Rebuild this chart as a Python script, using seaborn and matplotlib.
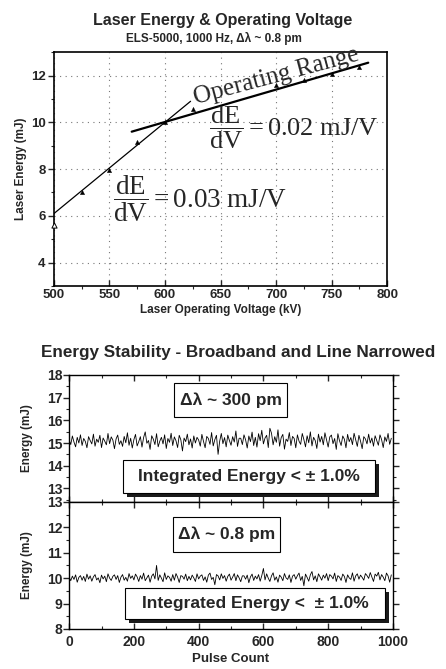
import numpy as np
import pandas as pd
import matplotlib
matplotlib.use('Agg')
import matplotlib.pyplot as plt
import seaborn as sns
from matplotlib.patches import Rectangle
from matplotlib.ticker import MultipleLocator

sns.set_theme(style="ticks")
plt.rcParams['font.family'] = ['Liberation Sans', 'DejaVu Sans']
plt.rcParams['mathtext.fontset'] = 'custom'
plt.rcParams['mathtext.rm'] = 'Liberation Serif'
plt.rcParams['mathtext.it'] = 'Liberation Serif:italic'

SERIF = ['Liberation Serif', 'DejaVu Serif']

# ── DATA: energy vs voltage ─────────────────────────────
voltage = [500, 525, 550, 575, 600, 625, 700, 725, 750, 775]
energy = [5.6, 7.0, 7.95, 9.15, 10.0, 10.55, 11.6, 11.8, 12.05, 12.35]

# hand-drawn slope lines (end points)
steep_x = [500, 623]
steep_y = [6.1, 10.9]
shallow_x = [570, 783]
shallow_y = [9.6, 12.55]

# ── DATA: pulse-to-pulse energy (every 5th pulse) ──────
pulse = np.arange(0, 1000, 5)
broad_base = 15.0
broad_dev = [  # hundredths of mJ
    14, -7, 31, 4, -17, 25, 0, 36, -11, 20, 7, -21, 28, 11, -4, 39, -14, 17, 3, 34,
    -20, 22, 8, -8, 42, -3, 27, 13, -25, 18, 35, -6, 10, -15, 29, 1, 45, -10, 21, -22,
    15, 38, -13, 6, 28, -18, 24, 49, -1, 11, -28, 32, 17, -7, 41, -17, 8, 25, -4, 36,
    -24, 20, 3, 43, -11, 27, 10, -20, 34, 14, -35, 22, 6, 39, -8, 18, -22, 31, 0, 25,
    13, -14, 38, 7, -21, 29, 20, -6, 46, -13, 15, 34, -50, 8, 42, -3, 24, -17, 35, 11,
    -10, 28, 4, 53, -15, 21, 21, -7, 36, 14, -22, 31, 6, 48, -11, 25, -18, 41, 10, 56,
    -4, 22, 34, -20, 65, 43, -8, 28, 3, 58, -14, 24, 38, -27, 17, 7, 46, -11, 29, 20,
    -21, 36, 8, -6, 42, 15, -17, 32, 1, 49, -13, 25, 11, -24, 39, 4, 29, -8, 45, 14,
    -18, 27, 35, -3, 20, -28, 41, 10, -11, 31, 17, -21, 38, 6, 24, -7, 43, 13, -15, 34,
    8, -25, 28, 18, -4, 39, 0, 22, -14, 32, 11, -10, 36, 15, -20, 27, 7, 42, -6, 21,
]
narrow_base = 10.0
narrow_dev = [  # hundredths of mJ
    4, -10, 8, -5, 13, -16, 3, 10, -8, 7, -13, 16, -4, 9, -12, 5, 14, -7, 1, -18,
    12, -3, 8, -14, 17, 0, -9, 7, 13, -5, 10, -17, 4, 14, -8, 3, -12, 18, -1, 9,
    -7, 16, 5, -13, 10, -4, 20, -10, 1, 12, -16, 8, 17, -3, 50, -9, 13, 0, -14, 21,
    -5, 9, 3, -12, 14, -8, 18, 4, -17, 10, 7, -4, 16, -10, 7, -7, 12, 1, -13, 17,
    -3, 8, 13, -9, 5, -16, 12, 20, -5, 3, -26, 14, 9, -7, 17, -1, 10, -12, 7, 16,
    -8, 4, 18, -10, 13, 1, -14, 9, 9, -4, 12, -18, 5, 16, -9, 8, -3, 14, -12, 10,
    38, -7, 17, 0, -13, 9, 21, -8, 5, -16, 12, 4, -10, 18, 1, -5, 13, -17, 8, 14,
    -4, 10, 20, -9, 7, -30, 16, 3, -12, 13, 26, -7, 9, -14, 17, 5, -8, 12, 0, 18,
    -10, 14, 8, -3, 20, -13, 10, 4, -9, 16, 7, -17, 13, 1, -5, 21, -12, 9, 17, -4,
    12, 3, -8, 18, 10, -1, 22, 5, -13, 16, 8, 23, -7, 14, 4, -10, 20, 9, -16, 13,
]
broad = pd.DataFrame({'pulse': pulse, 'energy': broad_base + np.array(broad_dev) / 100})
narrow = pd.DataFrame({'pulse': pulse, 'energy': narrow_base + np.array(narrow_dev) / 100})

fig = plt.figure(figsize=(4.46, 6.69), dpi=100)

# ── TOP PANEL ───────────────────────────────────────────
ax1 = fig.add_axes([0.121, 0.5725, 0.747, 0.3495])
sns.lineplot(x=steep_x, y=steep_y, color='black', linewidth=0.9, ax=ax1)
sns.lineplot(x=shallow_x, y=shallow_y, color='black', linewidth=1.6, ax=ax1)
sns.scatterplot(x=voltage[1:], y=energy[1:], marker='^', color='black',
                edgecolor='black', s=10, ax=ax1, zorder=5)
ax1.scatter(voltage[:1], energy[:1], marker='^', facecolor='white',
            edgecolor='black', s=14, linewidth=0.7, zorder=5, clip_on=False)
ax1.set_xlim(500, 800)
ax1.set_ylim(3, 13)
ax1.xaxis.set_major_locator(MultipleLocator(50))
ax1.xaxis.set_minor_locator(MultipleLocator(25))
ax1.yaxis.set_major_locator(MultipleLocator(2))
ax1.yaxis.set_minor_locator(MultipleLocator(1))
ax1.grid(True, which='major', linestyle=(0, (1, 4)), color='#777777', linewidth=0.8)
ax1.tick_params(axis='both', which='major', labelsize=9.5, length=4, width=1, pad=2)
ax1.tick_params(axis='both', which='minor', length=2, width=0.8)
ax1.tick_params(axis='x', direction='in')
for lbl in ax1.get_xticklabels() + ax1.get_yticklabels():
    lbl.set_fontweight('bold')
for sp in ax1.spines.values():
    sp.set_linewidth(1.2)
    sp.set_color('black')
ax1.set_xlabel('Laser Operating Voltage (kV)', fontsize=8.5, fontweight='bold', labelpad=2)
ax1.set_ylabel('Laser Energy (mJ)', fontsize=8.5, fontweight='bold', labelpad=3)

ax1.text(700, 11.95, 'Operating Range', family=SERIF, fontsize=18, rotation=15,
         ha='center', va='center', rotation_mode='anchor')
ax1.text(640, 9.75, r'$\dfrac{\mathrm{dE}}{\mathrm{dV}} = \mathrm{0.02\ mJ/V}$',
         fontsize=19, ha='left', va='center')
ax1.text(553, 6.75, r'$\dfrac{\mathrm{dE}}{\mathrm{dV}} = \mathrm{0.03\ mJ/V}$',
         fontsize=19.5, ha='left', va='center')

fig.text(0.5, 1 - 20 / 669, 'Laser Energy & Operating Voltage', ha='center',
         va='center', fontsize=11.5, fontweight='bold')
fig.text(0.48, 1 - 38 / 669, 'ELS-5000, 1000 Hz, \u0394\u03bb ~ 0.8 pm', ha='center',
         va='center', fontsize=8.5, fontweight='bold')

# ── BOTTOM PANELS ───────────────────────────────────────
ax2 = fig.add_axes([0.155, 0.2496, 0.726, 0.19])
ax3 = fig.add_axes([0.155, 0.0598, 0.726, 0.19])
sns.lineplot(data=broad, x='pulse', y='energy', color='black', linewidth=0.6, ax=ax2)
sns.lineplot(data=narrow, x='pulse', y='energy', color='black', linewidth=0.6, ax=ax3)

ax2.set_ylim(12.4, 18)
ax3.set_ylim(8, 13)
for ax in (ax2, ax3):
    ax.set_xlim(0, 1000)
    ax.xaxis.set_major_locator(MultipleLocator(200))
    ax.xaxis.set_minor_locator(MultipleLocator(100))
    ax.yaxis.set_major_locator(MultipleLocator(1))
    ax.yaxis.set_minor_locator(MultipleLocator(0.5))
    ax.tick_params(axis='both', which='major', labelsize=10, length=4, width=1, pad=1)
    ax.tick_params(axis='both', which='minor', length=2, width=0.8)
    ax.tick_params(axis='y', which='both', right=True)
    ax.tick_params(axis='x', which='both', top=True, direction='in', pad=4)
    for lbl in ax.get_xticklabels() + ax.get_yticklabels():
        lbl.set_fontweight('bold')
    for sp in ax.spines.values():
        sp.set_linewidth(1.0)
        sp.set_color('black')
    ax.set_ylabel('Energy (mJ)', fontsize=8.5, fontweight='bold', labelpad=10)
ax2.set_xlabel('')
ax2.tick_params(axis='x', labelbottom=False)
ax3.set_xlabel('Pulse Count', fontsize=9.5, fontweight='bold', labelpad=3)


def boxed(ax, x0, y0, x1, y1, text, shadow):
    w, h = x1 - x0, y1 - y0
    if shadow:
        ax.add_patch(Rectangle((x0 + 0.012, y0 - 0.03), w, h, transform=ax.transAxes,
                               facecolor='#1a1a1a', edgecolor='none', zorder=4))
    ax.add_patch(Rectangle((x0, y0), w, h, transform=ax.transAxes, facecolor='white',
                           edgecolor='black', linewidth=0.8, zorder=5))
    ax.text(x0 + w / 2, y0 + h / 2, text, transform=ax.transAxes, ha='center',
            va='center', fontsize=12.5, fontweight='bold', zorder=6)


boxed(ax2, 0.324, 0.669, 0.673, 0.937, '\u0394\u03bb ~ 300 pm', False)
boxed(ax2, 0.167, 0.071, 0.944, 0.331, 'Integrated Energy < \u00b1 1.0%', True)
boxed(ax3, 0.321, 0.606, 0.651, 0.882, '\u0394\u03bb ~ 0.8 pm', False)
boxed(ax3, 0.173, 0.079, 0.975, 0.323, 'Integrated Energy <  \u00b1 1.0%', True)

fig.text(0.535, 1 - 353 / 669, 'Energy Stability - Broadband and Line Narrowed',
         ha='center', va='center', fontsize=12.3, fontweight='bold')

plt.savefig('out.png', dpi=100)
plt.close()
